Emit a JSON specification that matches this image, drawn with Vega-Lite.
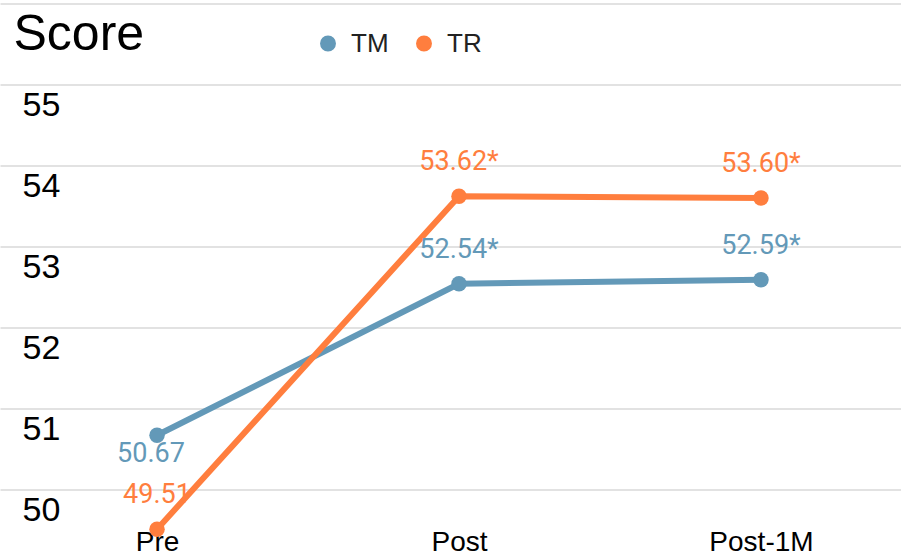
{
  "$schema": "https://vega.github.io/schema/vega-lite/v6.json",
  "width": 918,
  "height": 526.5,
  "autosize": {"type": "none"},
  "padding": {"left": 0, "top": 3.5, "right": 0, "bottom": 24},
  "background": "white",
  "config": {"view": {"stroke": null}},
  "data": {
    "values": [
      {"group": "TM", "time": "Pre", "score": 50.67, "label": "50.67"},
      {"group": "TM", "time": "Post", "score": 52.54, "label": "52.54*"},
      {"group": "TM", "time": "Post-1M", "score": 52.59, "label": "52.59*"},
      {"group": "TR", "time": "Pre", "score": 49.51, "label": "49.51"},
      {"group": "TR", "time": "Post", "score": 53.62, "label": "53.62*"},
      {"group": "TR", "time": "Post-1M", "score": 53.60, "label": "53.60*"}
    ]
  },
  "encoding": {
    "x": {
      "field": "time", "type": "ordinal", "sort": ["Pre", "Post", "Post-1M"],
      "scale": {"type": "point", "padding": 0.52},
      "axis": {"title": null, "domain": false, "ticks": false, "labelAngle": 0, "labelPadding": -2,
               "labelFont": "Liberation Sans", "labelFontSize": 28, "labelColor": "#000000", "labelBaseline": "top"}
    },
    "y": {
      "field": "score", "type": "quantitative",
      "scale": {"domain": [49.5, 56], "nice": false, "zero": false},
      "axis": {
        "title": "Score", "titleAngle": 0, "titleX": 13, "titleY": 46, "titleAlign": "left",
        "titleBaseline": "alphabetic", "titleFont": "Liberation Sans", "titleFontSize": 50,
        "titleFontWeight": "normal", "titleColor": "#000000",
        "values": [50, 51, 52, 53, 54, 55, 56],
        "labelExpr": "datum.value == 56 ? '' : datum.label",
        "domain": false, "ticks": false, "grid": true, "gridColor": "#d9d9d9", "gridWidth": 1.5,
        "labelAlign": "left", "labelPadding": -22, "labelBaseline": "alphabetic", "labelOffset": 31,
        "labelFont": "Liberation Sans", "labelFontSize": 34, "labelColor": "#000000"
      }
    },
    "color": {
      "field": "group", "type": "nominal",
      "scale": {"domain": ["TM", "TR"], "range": ["#6399b8", "#ff7e3e"]},
      "legend": {
        "title": null, "orient": "none", "legendX": 315, "legendY": 27, "direction": "horizontal",
        "symbolType": "circle", "symbolSize": 254, "symbolStrokeWidth": 0, "symbolOpacity": 1,
        "labelFont": "Liberation Sans", "labelFontSize": 26, "labelColor": "#222222",
        "labelOffset": 10, "columnPadding": 22, "padding": 0
      }
    }
  },
  "layer": [
    {"mark": {"type": "line", "strokeWidth": 6}},
    {"mark": {"type": "circle", "size": 240, "opacity": 1}},
    {
      "transform": [{"filter": "!(datum.group == 'TM' && datum.time == 'Pre')"}],
      "mark": {"type": "text", "font": "Roboto", "fontSize": 27, "dy": -26, "baseline": "alphabetic", "align": "center"},
      "encoding": {"text": {"field": "label"}}
    },
    {
      "transform": [{"filter": "datum.group == 'TM' && datum.time == 'Pre'"}],
      "mark": {"type": "text", "font": "Roboto", "fontSize": 27, "dy": 27, "dx": -6, "baseline": "alphabetic", "align": "center"},
      "encoding": {"text": {"field": "label"}}
    }
  ]
}
